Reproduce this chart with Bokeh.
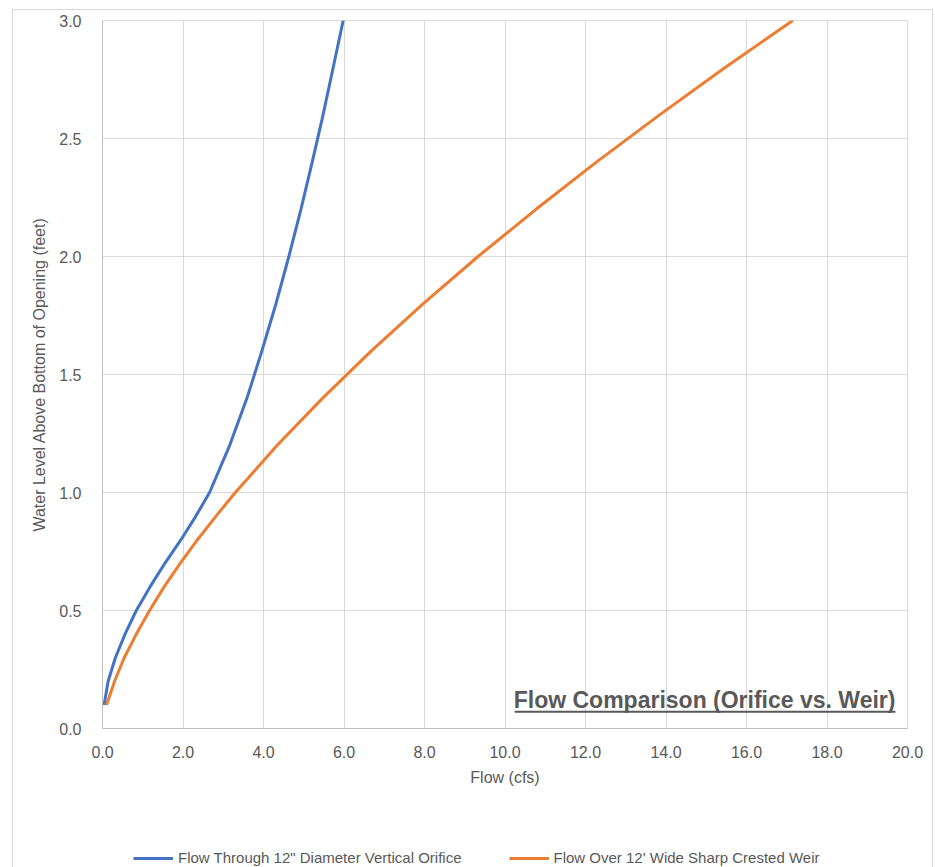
from bokeh.plotting import figure
from bokeh.layouts import column
from bokeh.models import Legend, LegendItem, Label, FixedTicker, Range1d, ColumnDataSource
from bokeh.embed import file_html
from bokeh.resources import INLINE

# ---- data ----
water_level = [0.1, 0.2, 0.3, 0.4, 0.5, 0.6, 0.7, 0.8, 0.9, 1.0,
               1.2, 1.4, 1.6, 1.8, 2.0, 2.2, 2.4, 2.6, 2.8, 3.0]
orifice_flow = [0.04, 0.14, 0.32, 0.56, 0.84, 1.18, 1.55, 1.95, 2.32, 2.66,
                3.16, 3.59, 3.96, 4.31, 4.63, 4.93, 5.21, 5.48, 5.73, 5.98]
weir_flow = [0.10, 0.30, 0.54, 0.84, 1.17, 1.53, 1.93, 2.36, 2.82, 3.30,
             4.34, 5.47, 6.68, 7.97, 9.33, 10.77, 12.27, 13.84, 15.46, 17.15]
x_ticks = [0, 2, 4, 6, 8, 10, 12, 14, 16, 18, 20]
x_tick_labels = ["0.0", "2.0", "4.0", "6.0", "8.0", "10.0", "12.0", "14.0", "16.0", "18.0", "20.0"]
y_ticks = [0, 0.5, 1.0, 1.5, 2.0, 2.5, 3.0]
y_tick_labels = ["0.0", "0.5", "1.0", "1.5", "2.0", "2.5", "3.0"]
series_names = ["Flow Through 12\" Diameter Vertical Orifice",
                "Flow Over 12' Wide Sharp Crested Weir"]
chart_title = "Flow Comparison (Orifice vs. Weir)"
x_title = "Flow (cfs)"
y_title = "Water Level Above Bottom of Opening (feet)"

FONT = "Liberation Sans"
GRAY = "#595959"
GRID = "#d9d9d9"
BLUE = "#4472C4"
ORANGE = "#ED7D31"

# main chart; its canvas starts at (13, 10) of the page
p = figure(width=919, height=797, output_backend="svg", toolbar_location=None,
           x_range=Range1d(0, 20), y_range=Range1d(0, 3),
           min_border_left=89, min_border_right=25, min_border_top=10, min_border_bottom=79)
p.background_fill_color = "white"
p.border_fill_color = "white"
p.outline_line_color = GRID

src = ColumnDataSource(dict(h=water_level, q_or=orifice_flow, q_w=weir_flow))
p.line("q_or", "h", source=src, line_color=BLUE, line_width=3)
p.line("q_w", "h", source=src, line_color=ORANGE, line_width=3)

for ax in (p.xaxis[0], p.yaxis[0]):
    ax.major_tick_line_color = None
    ax.minor_tick_line_color = None
    ax.axis_line_color = "#bfbfbf"
    ax.major_label_text_color = GRAY
    ax.major_label_text_font = FONT
    ax.major_label_text_font_size = "16px"
    ax.axis_label_text_color = GRAY
    ax.axis_label_text_font = FONT
    ax.axis_label_text_font_size = "16px"
    ax.axis_label_text_font_style = "normal"

p.xaxis.ticker = FixedTicker(ticks=x_ticks)
p.xaxis.major_label_overrides = {t: l for t, l in zip(x_ticks, x_tick_labels)}
p.yaxis.ticker = FixedTicker(ticks=y_ticks)
p.yaxis.major_label_overrides = {t: l for t, l in zip(y_ticks, y_tick_labels)}
p.xaxis.axis_label = x_title
p.yaxis.axis_label = y_title
p.xaxis.major_label_standoff = 11
p.xaxis.axis_label_standoff = 8
p.yaxis.major_label_standoff = 15
p.yaxis.axis_label_standoff = 8

p.xgrid.grid_line_color = GRID
p.ygrid.grid_line_color = GRID
p.xgrid.ticker = FixedTicker(ticks=x_ticks)
p.ygrid.ticker = FixedTicker(ticks=y_ticks)

# title inside plot, bold + underlined
title_lbl = Label(x=19.70, y=0.065, text=chart_title, text_align="right",
                  text_baseline="bottom", text_font=FONT, text_font_size="23px",
                  text_font_style="bold", text_color=GRAY)
p.add_layout(title_lbl)
ul = ColumnDataSource(dict(x=[10.24, 19.70], y=[0.071, 0.071]))
p.line("x", "y", source=ul, line_color=GRAY, line_width=2)

# legend strip below the chart (its frame is aligned with the chart's frame)
lf = figure(width=919, height=60, output_backend="svg", toolbar_location=None,
            x_range=Range1d(100, 101), y_range=Range1d(100, 101),
            x_axis_location=None, y_axis_location=None,
            min_border_left=0, min_border_right=0, min_border_top=0, min_border_bottom=0)
lf.grid.visible = False
lf.outline_line_color = None
lf.background_fill_color = "white"
lf.border_fill_color = "white"
# same series, drawn outside this strip's visible range: only their legend glyphs show
l1 = lf.line("q_or", "h", source=src, line_color=BLUE, line_width=3)
l2 = lf.line("q_w", "h", source=src, line_color=ORANGE, line_width=3)

legend = Legend(items=[LegendItem(label=series_names[0], renderers=[l1]),
                       LegendItem(label=series_names[1], renderers=[l2])],
                orientation="horizontal", location=(31, 1))
legend.glyph_width = 40
legend.glyph_height = 16
legend.label_standoff = 5
legend.spacing = 47
legend.padding = 0
legend.margin = 0
legend.border_line_alpha = 0
legend.background_fill_alpha = 0
legend.label_text_font = FONT
legend.label_text_font_size = "15px"
legend.label_text_color = GRAY
lf.add_layout(legend)

layout = column(p, lf, spacing=0)
layout.margin = (10, 0, 0, 13)
layout.styles = {"outline": "1px solid #d9d9d9"}

open("out.html", "w").write(file_html(layout, INLINE))
